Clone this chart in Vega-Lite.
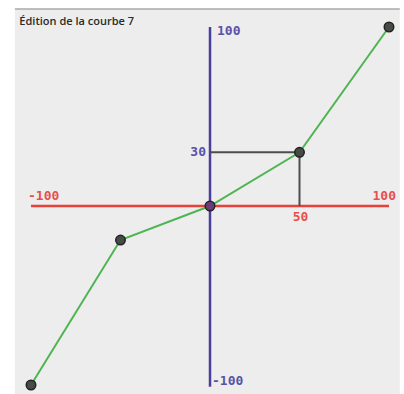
{
  "$schema": "https://vega.github.io/schema/vega-lite/v6.json",
  "width": 358,
  "height": 358,
  "autosize": {"type": "none"},
  "padding": {"left": 31, "right": 15, "top": 27, "bottom": 9},
  "background": "#ffffff",
  "config": {"view": {"stroke": null}},
  "datasets": {
    "curve": [
      {"x": -100, "y": -100},
      {"x": -50, "y": -19},
      {"x": 0, "y": 0},
      {"x": 50, "y": 30},
      {"x": 100, "y": 100}
    ],
    "redAxis": [{"x": -100, "x2": 100, "y": 0}],
    "blueAxis": [{"x": 0, "y": -101, "y2": 100}],
    "guides": [
      {"x": 0, "x2": 50, "y": 30, "y2": 30},
      {"x": 50, "x2": 50, "y": 30, "y2": 0}
    ],
    "blueLabels": [
      {"x": 0, "y": 100, "label": "100", "pos": "top"},
      {"x": 0, "y": -100, "label": "-100", "pos": "bottom"},
      {"x": 0, "y": 30, "label": "30", "pos": "left"}
    ],
    "redLabels": [
      {"x": -100, "y": 0, "label": "-100", "pos": "left"},
      {"x": 100, "y": 0, "label": "100", "pos": "right"},
      {"x": 50, "y": 0, "label": "50", "pos": "below"}
    ]
  },
  "layer": [
    {
      "data": {"values": [{}]},
      "mark": {"type": "rect", "color": "#ededed"},
      "encoding": {
        "x": {"datum": -109, "type": "quantitative", "scale": {"domain": [-100, 100], "nice": false, "zero": false}, "axis": null},
        "x2": {"datum": 106},
        "y": {"datum": 110, "type": "quantitative", "scale": {"domain": [-100, 100], "nice": false, "zero": false}, "axis": null},
        "y2": {"datum": -115}
      }
    },
    {
      "data": {"values": [{}]},
      "mark": {"type": "rule", "color": "#a8a8a8", "strokeWidth": 1.5},
      "encoding": {
        "x": {"datum": -109, "type": "quantitative"},
        "x2": {"datum": 106},
        "y": {"datum": 110, "type": "quantitative"}
      }
    },
    {
      "data": {"values": [{"title": "Édition de la courbe 7"}]},
      "mark": {"type": "text", "align": "left", "baseline": "alphabetic", "font": "Open Sans", "fontSize": 11, "fontWeight": 600, "color": "#2a2a2a"},
      "encoding": {
        "x": {"datum": -106.5, "type": "quantitative"},
        "y": {"datum": 101, "type": "quantitative"},
        "text": {"field": "title"}
      }
    },
    {
      "data": {"name": "redAxis"},
      "mark": {"type": "rule", "color": "#e8403a", "strokeWidth": 2.5},
      "encoding": {
        "x": {"field": "x", "type": "quantitative"},
        "x2": {"field": "x2"},
        "y": {"field": "y", "type": "quantitative"}
      }
    },
    {
      "data": {"name": "blueAxis"},
      "mark": {"type": "rule", "color": "#4a3f9c", "strokeWidth": 2.5},
      "encoding": {
        "x": {"field": "x", "type": "quantitative"},
        "y": {"field": "y", "type": "quantitative"},
        "y2": {"field": "y2"}
      }
    },
    {
      "data": {"name": "guides"},
      "mark": {"type": "rule", "color": "#4d4d4d", "strokeWidth": 2},
      "encoding": {
        "x": {"field": "x", "type": "quantitative"},
        "x2": {"field": "x2"},
        "y": {"field": "y", "type": "quantitative"},
        "y2": {"field": "y2"}
      }
    },
    {
      "data": {"name": "curve"},
      "mark": {"type": "line", "color": "#4fb552", "strokeWidth": 2},
      "encoding": {
        "x": {"field": "x", "type": "quantitative"},
        "y": {"field": "y", "type": "quantitative"}
      }
    },
    {
      "data": {"name": "curve"},
      "mark": {"type": "point", "filled": true, "size": 90, "strokeWidth": 1.5, "stroke": "#222222", "opacity": 1},
      "encoding": {
        "x": {"field": "x", "type": "quantitative"},
        "y": {"field": "y", "type": "quantitative"},
        "fill": {"condition": {"test": "datum.x == 0", "value": "#6e3a7e"}, "value": "#454b45"}
      }
    },
    {
      "data": {"name": "blueLabels"},
      "transform": [{"filter": "datum.pos == 'top'"}],
      "mark": {"type": "text", "align": "left", "baseline": "middle", "dx": 7, "dy": 4, "font": "DejaVu Sans Mono", "fontWeight": "bold", "fontSize": 13, "color": "#5a52a8"},
      "encoding": {
        "x": {"field": "x", "type": "quantitative"},
        "y": {"field": "y", "type": "quantitative"},
        "text": {"field": "label"}
      }
    },
    {
      "data": {"name": "blueLabels"},
      "transform": [{"filter": "datum.pos == 'bottom'"}],
      "mark": {"type": "text", "align": "left", "baseline": "middle", "dx": 2, "dy": -4, "font": "DejaVu Sans Mono", "fontWeight": "bold", "fontSize": 13, "color": "#5a52a8"},
      "encoding": {
        "x": {"field": "x", "type": "quantitative"},
        "y": {"field": "y", "type": "quantitative"},
        "text": {"field": "label"}
      }
    },
    {
      "data": {"name": "blueLabels"},
      "transform": [{"filter": "datum.pos == 'left'"}],
      "mark": {"type": "text", "align": "right", "baseline": "middle", "dx": -4, "dy": 0, "font": "DejaVu Sans Mono", "fontWeight": "bold", "fontSize": 13, "color": "#5a52a8"},
      "encoding": {
        "x": {"field": "x", "type": "quantitative"},
        "y": {"field": "y", "type": "quantitative"},
        "text": {"field": "label"}
      }
    },
    {
      "data": {"name": "redLabels"},
      "transform": [{"filter": "datum.pos == 'left'"}],
      "mark": {"type": "text", "align": "left", "baseline": "middle", "dx": -3, "dy": -10, "font": "DejaVu Sans Mono", "fontWeight": "bold", "fontSize": 13, "color": "#e8504a"},
      "encoding": {
        "x": {"field": "x", "type": "quantitative"},
        "y": {"field": "y", "type": "quantitative"},
        "text": {"field": "label"}
      }
    },
    {
      "data": {"name": "redLabels"},
      "transform": [{"filter": "datum.pos == 'right'"}],
      "mark": {"type": "text", "align": "right", "baseline": "middle", "dx": 7, "dy": -10, "font": "DejaVu Sans Mono", "fontWeight": "bold", "fontSize": 13, "color": "#e8504a"},
      "encoding": {
        "x": {"field": "x", "type": "quantitative"},
        "y": {"field": "y", "type": "quantitative"},
        "text": {"field": "label"}
      }
    },
    {
      "data": {"name": "redLabels"},
      "transform": [{"filter": "datum.pos == 'below'"}],
      "mark": {"type": "text", "align": "center", "baseline": "middle", "dx": 1, "dy": 11, "font": "DejaVu Sans Mono", "fontWeight": "bold", "fontSize": 13, "color": "#e8504a"},
      "encoding": {
        "x": {"field": "x", "type": "quantitative"},
        "y": {"field": "y", "type": "quantitative"},
        "text": {"field": "label"}
      }
    }
  ]
}
